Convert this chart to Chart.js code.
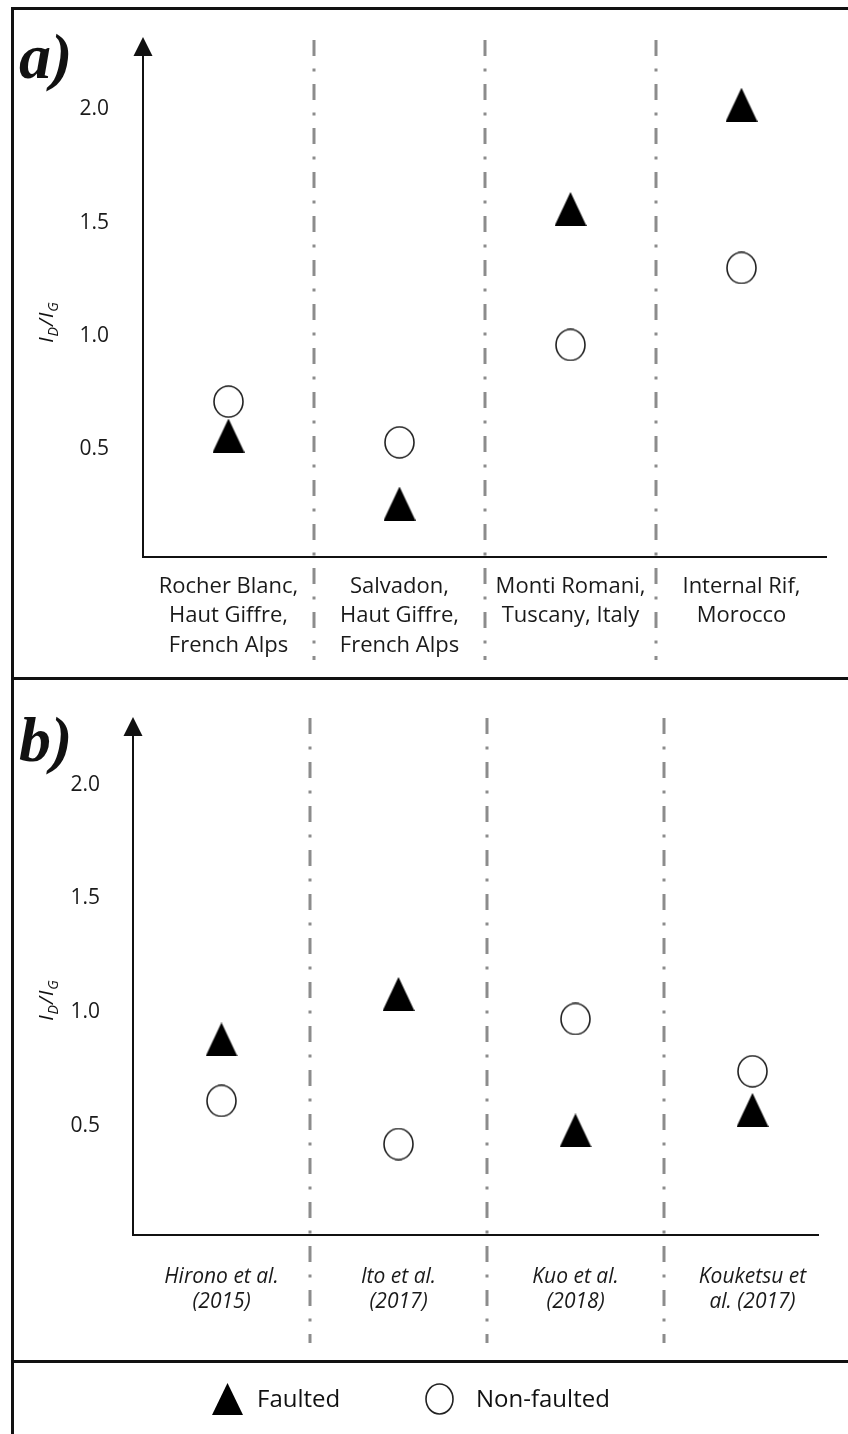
<!DOCTYPE html>
<html>
<head>
<meta charset="utf-8">
<title>ID/IG of faulted and non-faulted samples</title>
<script src="https://cdn.jsdelivr.net/npm/chart.js@4.4.1/dist/chart.umd.min.js"></script>
<style>
  html, body { margin: 0; padding: 0; background: #fff; }
  body { position: relative; width: 848px; height: 1434px; overflow: hidden; font-family: "Open Sans", sans-serif; color: #111; }
  canvas.panel { position: absolute; left: 0; }
  #chartA { top: 0; }
  #chartB { top: 678px; }
  .frame { position: absolute; left: 11px; top: 7px; width: 900px; height: 1500px; border-top: 3px solid #111; border-left: 3px solid #111; }
  .divider { position: absolute; left: 11px; width: 837px; height: 3px; background: #111; }
  .legend-item { position: absolute; top: 1383px; }
  .legend-text { position: absolute; top: 1382px; font-size: 24px; line-height: 32px; color: #111; }
</style>
</head>
<body>
<canvas id="chartA" class="panel" width="848" height="678"></canvas>
<canvas id="chartB" class="panel" width="848" height="683"></canvas>
<div class="frame"></div>
<div class="divider" style="top:677px"></div>
<div class="divider" style="top:1360px"></div>

<canvas id="legTri" class="legend-item" style="left:212px" width="31" height="32"></canvas>
<span class="legend-text" style="left:257px">Faulted</span>
<canvas id="legCirc" class="legend-item" style="left:425px" width="29" height="32"></canvas>
<span class="legend-text" style="left:476px">Non-faulted</span>

<script>
// ---- data ----
const sitesA = [
  ["Rocher Blanc,", "Haut Giffre,", "French Alps"],
  ["Salvadon,", "Haut Giffre,", "French Alps"],
  ["Monti Romani,", "Tuscany, Italy"],
  ["Internal Rif,", "Morocco"],
];
const faultedA = [0.56, 0.26, 1.56, 2.02];
const nonFaultedA = [0.71, 0.53, 0.96, 1.30];

const studiesB = [
  ["Hirono et al.", "(2015)"],
  ["Ito et al.", "(2017)"],
  ["Kuo et al.", "(2018)"],
  ["Kouketsu et", "al. (2017)"],
];
const faultedB = [0.88, 1.08, 0.48, 0.57];
const nonFaultedB = [0.61, 0.42, 0.97, 0.74];

const yTicks = [0.5, 1.0, 1.5, 2.0];

// ---- marker images ----
function triangleMarker(canvas, w, h) {
  const c = canvas || document.createElement("canvas");
  c.width = w;
  c.height = h;
  const g = c.getContext("2d");
  g.fillStyle = "#000";
  g.beginPath();
  g.moveTo(w / 2, 0);
  g.lineTo(w, h);
  g.lineTo(0, h);
  g.closePath();
  g.fill();
  return c;
}

function circleMarker(canvas, w, h) {
  const c = canvas || document.createElement("canvas");
  c.width = w;
  c.height = h;
  const g = c.getContext("2d");
  g.strokeStyle = "#222";
  g.lineWidth = 1.6;
  g.beginPath();
  g.ellipse(w / 2, h / 2, w / 2 - 1, h / 2 - 1, 0, 0, Math.PI * 2);
  g.stroke();
  return c;
}

const triImg = triangleMarker(null, 32, 34);
const circImg = circleMarker(null, 31, 33);
triangleMarker(document.getElementById("legTri"), 31, 32);
circleMarker(document.getElementById("legCirc"), 29, 32);

// separators, arrowed axes, panel letter and I_D/I_G title
const panelDecor = {
  id: "panelDecor",
  beforeDatasetsDraw(chart, args, opts) {
    const { ctx, scales: { x } } = chart;
    ctx.save();
    ctx.strokeStyle = "#8c8c8c";
    ctx.lineWidth = 3;
    ctx.setLineDash([16, 12.5, 3, 12.5]);
    for (let i = 1; i < chart.data.labels.length; i++) {
      const px = Math.round((x.getPixelForValue(i - 1) + x.getPixelForValue(i)) / 2);
      ctx.beginPath();
      ctx.moveTo(px, 40);
      ctx.lineTo(px, chart.height - 18);
      ctx.stroke();
    }
    ctx.restore();
  },
  afterDraw(chart, args, opts) {
    const { ctx, chartArea: a } = chart;
    ctx.save();

    // axes
    ctx.strokeStyle = "#111";
    ctx.fillStyle = "#111";
    ctx.lineWidth = 2;
    ctx.beginPath();
    ctx.moveTo(a.left, a.top + 18);
    ctx.lineTo(a.left, a.bottom);
    ctx.lineTo(a.right - opts.xInset, a.bottom);
    ctx.stroke();
    ctx.beginPath();
    ctx.moveTo(a.left, a.top);
    ctx.lineTo(a.left - 9.5, a.top + 19);
    ctx.lineTo(a.left + 9.5, a.top + 19);
    ctx.closePath();
    ctx.fill();

    // panel letter
    ctx.font = 'italic bold 64px "Liberation Serif"';
    ctx.textBaseline = "alphabetic";
    ctx.fillText(opts.letter, 19, opts.letterBase);

    // y title I_D / I_G
    const big = 'italic 20px "Open Sans"';
    const small = 'italic 14px "Open Sans"';
    const parts = [["I", big, 0], ["D", small, 5], ["/", big, 0], ["I", big, 0], ["G", small, 5]];
    let total = 0;
    parts.forEach(p => { ctx.font = p[1]; total += ctx.measureText(p[0]).width + 1; });
    ctx.translate(53, 322);
    ctx.rotate(-Math.PI / 2);
    let pos = -total / 2;
    parts.forEach(p => {
      ctx.font = p[1];
      ctx.fillText(p[0], pos, p[2]);
      pos += ctx.measureText(p[0]).width + 1;
    });
    ctx.restore();
  },
};

function makePanel(id, labels, faulted, nonFaulted, cfg) {
  // markers are images, so a tiny radius keeps Chart.js from reserving overflow space
  const pointOpts = { showLine: false, pointRadius: 1, pointHoverRadius: 1, pointBorderWidth: 0, borderWidth: 0 };
  return new Chart(document.getElementById(id), {
    type: "line",
    data: {
      labels: labels,
      datasets: [
        { label: "Faulted", data: faulted, pointStyle: triImg, ...pointOpts },
        { label: "Non-faulted", data: nonFaulted, pointStyle: circImg, ...pointOpts },
      ],
    },
    options: {
      responsive: false,
      animation: false,
      events: [],
      layout: { padding: { top: cfg.top, right: cfg.right, left: 0, bottom: 0 } },
      plugins: {
        legend: { display: false },
        tooltip: { enabled: false },
        panelDecor: { letter: cfg.letter, letterBase: cfg.letterBase, xInset: cfg.xInset },
      },
      scales: {
        x: {
          type: "category",
          offset: true,
          grid: { display: false, drawTicks: false },
          border: { display: false },
          ticks: {
            autoSkip: false,
            maxRotation: 0,
            padding: cfg.labelPad,
            color: "#1a1a1a",
            font: { family: "Open Sans", size: cfg.labelSize, style: cfg.labelStyle, lineHeight: cfg.labelLine },
          },
          afterFit: s => {
            s.height = cfg.xHeight;
            s.paddingLeft = 0;
            s.paddingRight = 0;
          },
        },
        y: {
          min: cfg.yMin,
          max: cfg.yMax,
          grid: { display: false, drawTicks: false },
          border: { display: false },
          ticks: {
            padding: cfg.yPad,
            color: "#1a1a1a",
            font: { family: "Open Sans", size: 21 },
            callback: v => Number(v).toFixed(1),
          },
          afterBuildTicks: s => { s.ticks = yTicks.map(v => ({ value: v })); },
          afterFit: s => {
            s.width = cfg.yWidth;
            s.paddingTop = 0;
            s.paddingBottom = 0;
          },
        },
      },
    },
    plugins: [panelDecor],
  });
}

makePanel("chartA", sitesA, faultedA, nonFaultedA, {
  letter: "a)", letterBase: 78,
  top: 37, right: 21, xInset: 0,
  yMin: 0.024, yMax: 2.319, yWidth: 143, yPad: 34,
  xHeight: 121, labelPad: 15, labelSize: 22, labelStyle: "normal", labelLine: 1.34,
});

makePanel("chartB", studiesB, faultedB, nonFaultedB, {
  letter: "b)", letterBase: 83,
  top: 39, right: 7, xInset: 22,
  yMin: 0.02, yMax: 2.298, yWidth: 133, yPad: 33,
  xHeight: 126, labelPad: 30, labelSize: 21, labelStyle: "italic", labelLine: 1.17,
});
</script>
</body>
</html>
